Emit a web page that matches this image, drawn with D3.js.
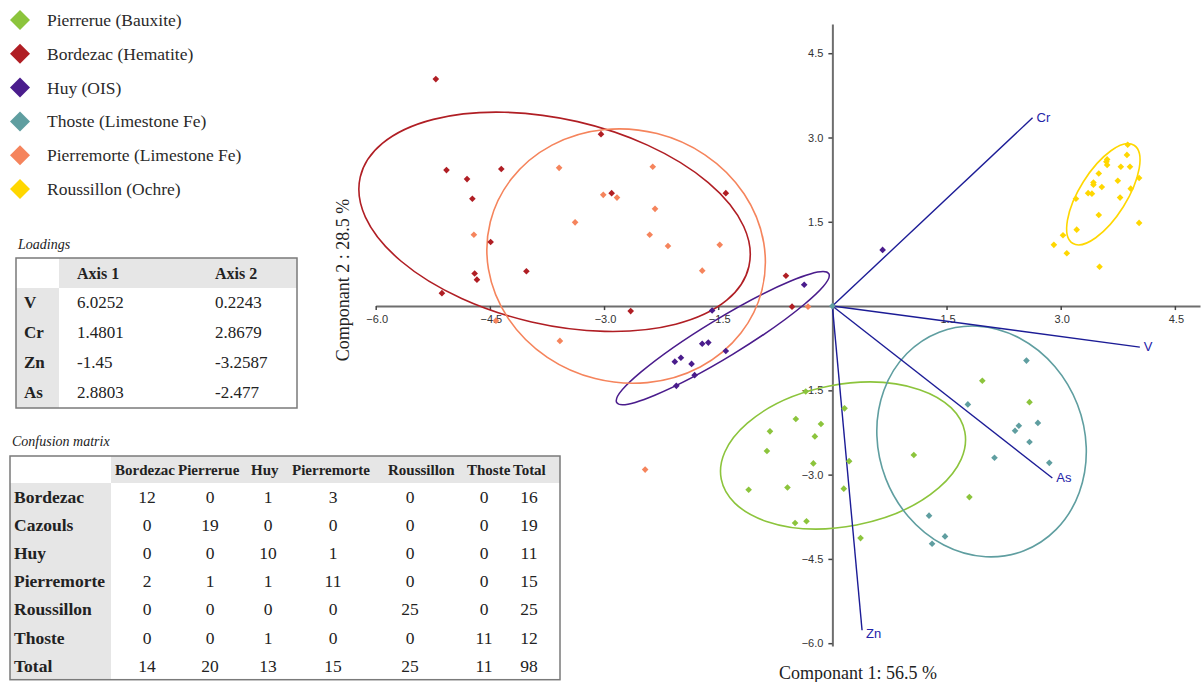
<!DOCTYPE html>
<html>
<head>
<meta charset="utf-8">
<script src="https://cdn.jsdelivr.net/npm/d3@7"></script>
<style>
  body { margin: 0; background: #fff; }
  svg { display: block; }
</style>
</head>
<body>
<div id="pca"></div>
<script>
// ---- data ----
const groups = ["Pierrerue (Bauxite)", "Bordezac (Hematite)", "Huy (OIS)", "Thoste (Limestone Fe)", "Pierremorte (Limestone Fe)", "Roussillon (Ochre)"];
const groupColors = ["#8cc43c", "#b01e24", "#4a1c8c", "#5f9ea0", "#f5845c", "#ffd700"];

const pierrerue = [[-0.35,-1.52],[0.16,-1.82],[-0.48,-2.01],[-0.15,-2.10],[-0.82,-2.23],[-0.23,-2.32],[-0.86,-2.58],[0.22,-2.76],[-0.25,-2.80],[-1.10,-3.27],[-0.59,-3.23],[0.15,-3.25],[-0.49,-3.86],[-0.34,-3.83],[0.37,-4.13],[1.07,-2.65],[1.97,-1.33],[2.59,-1.71],[1.80,-3.40]];
const bordezac = [[-5.21,4.04],[-3.04,3.06],[-5.07,2.42],[-4.80,2.26],[-4.35,2.44],[-4.73,1.91],[-2.90,2.01],[-1.40,2.01],[-4.49,1.14],[-4.70,0.58],[-4.67,0.47],[-4.02,0.62],[-5.13,0.23],[-2.65,-0.09],[-0.61,0.54],[-0.53,-0.01]];
const huy = [[-0.37,0.38],[-1.58,-0.08],[-1.71,-0.67],[-1.63,-0.65],[-1.40,-0.80],[-2.07,-0.99],[-1.99,-0.92],[-1.85,-1.03],[-1.81,-1.23],[-2.05,-1.42],[0.66,1.00]];
const thoste = [[2.55,-0.97],[1.78,-1.75],[2.45,-2.13],[2.40,-2.22],[2.70,-2.08],[2.59,-2.42],[2.13,-2.70],[2.85,-2.79],[1.27,-3.73],[1.48,-4.10],[1.31,-4.23],[0,0]];
const pierremorte = [[-3.59,2.46],[-2.36,2.48],[-3.01,1.98],[-2.83,1.93],[-2.33,1.73],[-3.38,1.49],[-4.71,1.27],[-2.40,1.27],[-2.16,1.07],[-1.48,1.09],[-1.71,0.63],[-4.42,-0.26],[-3.58,-0.62],[-0.32,-0.01],[-2.46,-2.91]];
const roussillon = [[3.88,2.87],[3.87,2.69],[3.61,2.61],[3.60,2.57],[3.61,2.51],[3.79,2.48],[3.91,2.48],[3.50,2.36],[3.75,2.23],[4.03,2.28],[3.43,2.20],[3.43,2.16],[3.54,2.12],[3.92,2.09],[3.36,2.01],[3.41,2.00],[3.20,1.91],[3.78,1.93],[3.50,1.62],[4.03,1.48],[3.21,1.36],[3.03,1.26],[2.91,1.09],[3.08,0.94],[3.51,0.70]];
const groupPoints = [pierrerue, bordezac, huy, thoste, pierremorte, roussillon];

// confidence ellipses: centre, semi axes (x units), rotation (deg on screen)
const ellipseCentres = [[0.14,-2.66],[-3.65,1.50],[-1.44,-0.57],[1.96,-2.41],[-2.71,0.89],[3.56,1.99]];
const ellipseAxes = [[1.63,0.93],[2.62,1.35],[1.63,0.25],[1.54,1.35],[1.84,1.66],[0.76,0.31]];
const ellipseAngles = [-11, 12.95, -31.3, 68.8, 14.2, -57.9];

// variable vectors on the biplot
const vectorNames = ["V", "Cr", "Zn", "As"];
const vectorEnds = [[4.04,-0.73],[2.63,3.35],[0.39,-5.77],[2.89,-3.06]];

const xTicks = [-6.0, -4.5, -3.0, -1.5, 1.5, 3.0, 4.5];
const yTicks = [4.5, 3.0, 1.5, -1.5, -3.0, -4.5, -6.0];

const loadingHeads = ["Axis 1", "Axis 2"];
const loadingVars = ["V", "Cr", "Zn", "As"];
const loadingAxis1 = ["6.0252", "1.4801", "-1.45", "2.8803"];
const loadingAxis2 = ["0.2243", "2.8679", "-3.2587", "-2.477"];

const confCols = ["Bordezac", "Pierrerue", "Huy", "Pierremorte", "Roussillon", "Thoste", "Total"];
const confRows = ["Bordezac", "Cazouls", "Huy", "Pierremorte", "Roussillon", "Thoste", "Total"];
const confMatrix = [
  [12, 0, 1, 3, 0, 0, 16],
  [0, 19, 0, 0, 0, 0, 19],
  [0, 0, 10, 1, 0, 0, 11],
  [2, 1, 1, 11, 0, 0, 15],
  [0, 0, 0, 0, 25, 0, 25],
  [0, 0, 1, 0, 0, 11, 12],
  [14, 20, 13, 15, 25, 11, 98]
];

// ---- layout ----
const W = 1203, H = 682;
const serif = "'Liberation Serif', 'Times New Roman', serif";
const sans = "'Liberation Sans', Arial, sans-serif";

const svg = d3.select("#pca").append("svg")
  .attr("width", W).attr("height", H);

const x = d3.scaleLinear().domain([-6.0, 4.83]).range([375.7, 1200]);
const y = d3.scaleLinear().domain([-6.05, 5.02]).range([646, 24]);

// axes
const axisColor = "#6e6e6e";
const xAxis = svg.append("g")
  .attr("transform", "translate(0," + y(0) + ")")
  .call(d3.axisBottom(x).tickValues(xTicks).tickFormat(d3.format(".1f")).tickSize(4).tickSizeOuter(0));
const yAxis = svg.append("g")
  .attr("transform", "translate(" + x(0) + ",0)")
  .call(d3.axisLeft(y).tickValues(yTicks).tickFormat(d3.format(".1f")).tickSize(4).tickSizeOuter(0));
[xAxis, yAxis].forEach(function(g) {
  g.select(".domain").attr("stroke", axisColor).attr("stroke-width", 2);
  g.selectAll(".tick line").attr("stroke", "#444").attr("stroke-width", 1.5);
  g.selectAll(".tick text").attr("fill", "#333").style("font-family", sans).style("font-size", "11px");
});
xAxis.selectAll(".tick text").attr("dy", "0.9em").attr("dx", "1px");
yAxis.selectAll(".tick text").attr("dx", "-2px");

// axis titles
svg.append("text")
  .attr("x", 858).attr("y", 679)
  .attr("text-anchor", "middle")
  .style("font-family", serif).style("font-size", "18px").attr("fill", "#222")
  .text("Componant 1: 56.5 %");
svg.append("text")
  .attr("transform", "translate(349,280) rotate(-90)")
  .attr("text-anchor", "middle")
  .style("font-family", serif).style("font-size", "18px").attr("fill", "#222")
  .text("Componant 2 : 28.5 %");

// ellipses
const ux = x(1) - x(0);
svg.selectAll("ellipse.conf")
  .data(groups)
  .enter()
  .append("ellipse")
    .attr("class", "conf")
    .attr("transform", function(d, i) {
      return "translate(" + x(ellipseCentres[i][0]) + "," + y(ellipseCentres[i][1]) + ") rotate(" + ellipseAngles[i] + ")";
    })
    .attr("rx", function(d, i) { return ellipseAxes[i][0] * ux; })
    .attr("ry", function(d, i) { return ellipseAxes[i][1] * ux; })
    .attr("fill", "none")
    .attr("stroke", function(d, i) { return groupColors[i]; })
    .attr("stroke-width", 1.6);

// vectors
const vecColor = "#1c1c96";
svg.selectAll("line.vec")
  .data(vectorNames)
  .enter()
  .append("line")
    .attr("x1", x(0)).attr("y1", y(0))
    .attr("x2", function(d, i) { return x(vectorEnds[i][0]); })
    .attr("y2", function(d, i) { return y(vectorEnds[i][1]); })
    .attr("stroke", vecColor)
    .attr("stroke-width", 1.4);

svg.selectAll("text.vec")
  .data(vectorNames)
  .enter()
  .append("text")
    .attr("x", function(d, i) { return x(vectorEnds[i][0]) + 4; })
    .attr("y", function(d, i) { return y(vectorEnds[i][1]) + (d == "Zn" ? 8 : 4); })
    .style("font-family", sans).style("font-size", "13px")
    .attr("fill", "#2323a8")
    .text(function(d) { return d; });

// points
const diamond = d3.symbol().type(d3.symbolSquare).size(22);
groupPoints.forEach(function(pts, gi) {
  svg.append("g").selectAll("path")
    .data(pts)
    .enter()
    .append("path")
      .attr("d", diamond)
      .attr("transform", function(d) { return "translate(" + x(d[0]) + "," + y(d[1]) + ") rotate(45)"; })
      .attr("fill", groupColors[gi]);
});

// legend
const legend = svg.append("g");
const legendRow = legend.selectAll("g")
  .data(groups)
  .enter()
  .append("g")
    .attr("transform", function(d, i) { return "translate(20," + (20 + i * 33.8) + ")"; });
legendRow.append("path")
  .attr("d", d3.symbol().type(d3.symbolSquare).size(200))
  .attr("transform", "rotate(45)")
  .attr("fill", function(d, i) { return groupColors[i]; });
legendRow.append("text")
  .attr("x", 27).attr("y", 6)
  .style("font-family", serif).style("font-size", "17.5px").attr("fill", "#2a2a2a")
  .text(function(d) { return d; });

// loadings table
const lt = svg.append("g");
const ltX = 16, ltY = 258, ltW = 281, ltHead = 30, ltRow = 30, ltCol0 = 43;
lt.append("text")
  .attr("x", 18).attr("y", 249)
  .style("font-family", serif).style("font-size", "14px").style("font-style", "italic").attr("fill", "#222")
  .text("Loadings");
lt.append("rect").attr("x", ltX + ltCol0).attr("y", ltY).attr("width", ltW - ltCol0).attr("height", ltHead).attr("fill", "#e6e6e6");
lt.append("rect").attr("x", ltX).attr("y", ltY + ltHead).attr("width", ltCol0).attr("height", ltRow * loadingVars.length).attr("fill", "#e6e6e6");
lt.append("rect").attr("x", ltX).attr("y", ltY).attr("width", ltW).attr("height", ltHead + ltRow * loadingVars.length)
  .attr("fill", "none").attr("stroke", "#7a7a7a").attr("stroke-width", 1.5);
const ltColX = [77, 215];
lt.selectAll("text.head")
  .data(loadingHeads)
  .enter()
  .append("text")
    .attr("x", function(d, i) { return ltColX[i]; })
    .attr("y", ltY + 21)
    .style("font-family", serif).style("font-size", "16px").style("font-weight", "bold").attr("fill", "#222")
    .text(function(d) { return d; });
loadingVars.forEach(function(v, i) {
  const yy = ltY + ltHead + ltRow * i + 20;
  lt.append("text").attr("x", 24).attr("y", yy)
    .style("font-family", serif).style("font-size", "17px").style("font-weight", "bold").attr("fill", "#222")
    .text(v);
  [loadingAxis1[i], loadingAxis2[i]].forEach(function(val, j) {
    lt.append("text").attr("x", ltColX[j]).attr("y", yy)
      .style("font-family", serif).style("font-size", "17px").attr("fill", "#222")
      .text(val);
  });
});

// confusion matrix
const cm = svg.append("g");
const cmX = 10, cmY = 456, cmW = 550, cmHead = 27, cmRow = 28.1, cmCol0 = 101;
cm.append("text")
  .attr("x", 12).attr("y", 446)
  .style("font-family", serif).style("font-size", "14px").style("font-style", "italic").attr("fill", "#222")
  .text("Confusion matrix");
cm.append("rect").attr("x", cmX + cmCol0).attr("y", cmY).attr("width", cmW - cmCol0).attr("height", cmHead).attr("fill", "#e6e6e6");
cm.append("rect").attr("x", cmX).attr("y", cmY + cmHead).attr("width", cmCol0).attr("height", cmRow * confRows.length).attr("fill", "#e6e6e6");
cm.append("rect").attr("x", cmX).attr("y", cmY).attr("width", cmW).attr("height", cmHead + cmRow * confRows.length)
  .attr("fill", "none").attr("stroke", "#7a7a7a").attr("stroke-width", 1.5);
const headX = [115, 178, 251, 292, 388, 467, 513];
const valX = [147, 210, 268, 333, 410, 484, 529];
cm.selectAll("text.head")
  .data(confCols)
  .enter()
  .append("text")
    .attr("x", function(d, i) { return headX[i]; })
    .attr("y", cmY + 19)
    .style("font-family", serif).style("font-size", "15px").style("font-weight", "bold").attr("fill", "#222")
    .text(function(d) { return d; });
confRows.forEach(function(r, i) {
  const yy = cmY + cmHead + cmRow * i + 20;
  cm.append("text").attr("x", 14).attr("y", yy)
    .style("font-family", serif).style("font-size", "17.5px").style("font-weight", "bold").attr("fill", "#222")
    .text(r);
  confMatrix[i].forEach(function(v, j) {
    cm.append("text").attr("x", valX[j]).attr("y", yy).attr("text-anchor", "middle")
      .style("font-family", serif).style("font-size", "17.5px").attr("fill", "#222")
      .text(v);
  });
});
</script>
</body>
</html>
